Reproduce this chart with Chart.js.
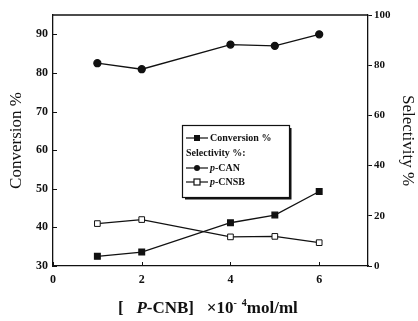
<!DOCTYPE html>
<html>
<head>
    <title>Conversion and Selectivity vs p-CNB</title>
    <script src="https://cdn.jsdelivr.net/npm/chart.js"></script>
    <style>
        html, body { margin: 0; padding: 0; background: #fff; }
        #wrap { position: relative; width: 418px; height: 321px; }
        #xTitle {
            position: absolute; left: 118px; top: 297px; white-space: nowrap;
            font-family: "Liberation Serif", serif;
            font-weight: bold; font-size: 17px; color: #111;
        }
        #xTitle sup { font-size: 10px; }
    </style>
</head>
<body>
    <div id="wrap">
        <canvas id="convChart" width="418" height="321"></canvas>
        <div id="xTitle">[&nbsp;&nbsp;&nbsp;<i>P</i>-CNB]&nbsp;&nbsp;&nbsp;×10<sup>-&nbsp;&nbsp;4</sup>mol/ml</div>
    </div>

    <script>
        // concentration of p-CNB (x 10^-4 mol/ml)
        const concentration = [1, 2, 4, 5, 6];
        const conversion = [32.5, 33.6, 41.2, 43.2, 49.3];
        const selectivityCAN = [80.8, 78.4, 88.2, 87.7, 92.3];
        const selectivityCNSB = [16.9, 18.5, 11.6, 11.8, 9.3];

        const leftTicks = [30, 40, 50, 60, 70, 80, 90];
        const rightTicks = [0, 20, 40, 60, 80, 100];
        const xTicks = [0, 2, 4, 6];

        const serif = '"Liberation Serif", "Times New Roman", serif';
        const toPoints = vals => vals.map((v, i) => ({ x: concentration[i], y: v }));

        // top frame line plus inward tick marks on the left and bottom axes
        const frameTicks = {
            id: 'frameTicks',
            afterDraw(chart) {
                const { ctx, chartArea, scales } = chart;
                ctx.save();
                ctx.strokeStyle = '#111';
                ctx.lineWidth = 1.3;
                ctx.beginPath();
                ctx.moveTo(chartArea.left, chartArea.top);
                ctx.lineTo(chartArea.right, chartArea.top);
                ctx.stroke();
                ctx.lineWidth = 1;
                leftTicks.forEach(v => {
                    const y = Math.round(scales.y.getPixelForValue(v)) + 0.5;
                    ctx.beginPath();
                    ctx.moveTo(chartArea.left, y);
                    ctx.lineTo(chartArea.left + 4, y);
                    ctx.stroke();
                });
                xTicks.forEach(v => {
                    const x = Math.round(scales.x.getPixelForValue(v)) + 0.5;
                    ctx.beginPath();
                    ctx.moveTo(x, chartArea.bottom);
                    ctx.lineTo(x, chartArea.bottom - 4);
                    ctx.stroke();
                });
                ctx.restore();
            }
        };

        // boxed legend in the middle of the plot
        const boxLegend = {
            id: 'boxLegend',
            afterDraw(chart) {
                const { ctx } = chart;
                const bx = 182, by = 125, bw = 107, bh = 72;
                ctx.save();
                ctx.fillStyle = '#fff';
                ctx.fillRect(bx, by, bw, bh);
                ctx.strokeStyle = '#111';
                ctx.lineWidth = 1.2;
                ctx.strokeRect(bx + 0.5, by + 0.5, bw, bh);
                ctx.lineWidth = 2;
                ctx.beginPath();
                ctx.moveTo(bx + 3, by + bh + 1.5);
                ctx.lineTo(bx + bw + 1.5, by + bh + 1.5);
                ctx.lineTo(bx + bw + 1.5, by + 3);
                ctx.stroke();

                ctx.font = 'bold 10px ' + serif;
                ctx.textBaseline = 'middle';
                ctx.fillStyle = '#111';

                const rows = [
                    { y: by + 13, label: 'Conversion %', marker: 'filledSquare' },
                    { y: by + 28, label: 'Selectivity %:', marker: null },
                    { y: by + 43, label: 'p-CAN', marker: 'circle' },
                    { y: by + 57, label: 'p-CNSB', marker: 'openSquare' }
                ];
                rows.forEach(r => {
                    if (!r.marker) {
                        ctx.fillText(r.label, bx + 4, r.y);
                        return;
                    }
                    ctx.lineWidth = 1.2;
                    ctx.beginPath();
                    ctx.moveTo(bx + 4, r.y);
                    ctx.lineTo(bx + 26, r.y);
                    ctx.stroke();
                    const mx = bx + 15;
                    if (r.marker === 'filledSquare') {
                        ctx.fillRect(mx - 3, r.y - 3, 6, 6);
                    } else if (r.marker === 'circle') {
                        ctx.beginPath();
                        ctx.arc(mx, r.y, 3, 0, Math.PI * 2);
                        ctx.fill();
                    } else {
                        ctx.fillStyle = '#fff';
                        ctx.fillRect(mx - 3, r.y - 3, 6, 6);
                        ctx.strokeRect(mx - 3, r.y - 3, 6, 6);
                        ctx.fillStyle = '#111';
                    }
                    const tx = bx + 28;
                    if (r.label.startsWith('p-')) {
                        ctx.font = 'italic bold 10px ' + serif;
                        ctx.fillText('p', tx, r.y);
                        const w = ctx.measureText('p').width;
                        ctx.font = 'bold 10px ' + serif;
                        ctx.fillText(r.label.slice(1), tx + w, r.y);
                    } else {
                        ctx.fillText(r.label, tx, r.y);
                    }
                });
                ctx.restore();
            }
        };

        const tickFont = { family: serif, size: 12, weight: 'bold' };

        new Chart(document.getElementById('convChart'), {
            type: 'line',
            data: {
                datasets: [
                    {
                        label: 'Conversion %',
                        data: toPoints(conversion),
                        yAxisID: 'y',
                        borderColor: '#111',
                        backgroundColor: '#111',
                        borderWidth: 1.3,
                        pointStyle: 'rect',
                        pointRadius: 4,
                        tension: 0
                    },
                    {
                        label: 'p-CAN',
                        data: toPoints(selectivityCAN),
                        yAxisID: 'y1',
                        borderColor: '#111',
                        backgroundColor: '#111',
                        borderWidth: 1.3,
                        pointStyle: 'circle',
                        pointRadius: 3.5,
                        tension: 0
                    },
                    {
                        label: 'p-CNSB',
                        data: toPoints(selectivityCNSB),
                        yAxisID: 'y1',
                        borderColor: '#111',
                        backgroundColor: '#fff',
                        borderWidth: 1.3,
                        pointStyle: 'rect',
                        pointRadius: 4,
                        pointBorderWidth: 1,
                        tension: 0
                    }
                ]
            },
            options: {
                responsive: false,
                animation: false,
                layout: { padding: { top: 15, bottom: 0 } },
                plugins: {
                    legend: { display: false },
                    tooltip: { enabled: false }
                },
                scales: {
                    x: {
                        type: 'linear',
                        min: 0,
                        max: 7.1,
                        afterBuildTicks: s => { s.ticks = xTicks.map(v => ({ value: v })); },
                        afterFit: s => { s.height = 55; },
                        border: { color: '#111', width: 1.3 },
                        grid: { drawOnChartArea: false, drawTicks: false },
                        ticks: { color: '#111', font: tickFont, padding: 7 }
                    },
                    y: {
                        position: 'left',
                        min: 30,
                        max: 95,
                        afterBuildTicks: s => { s.ticks = leftTicks.map(v => ({ value: v })); },
                        afterFit: s => { s.width = 53; },
                        border: { color: '#111', width: 1.3 },
                        grid: { drawOnChartArea: false, drawTicks: false },
                        ticks: { color: '#111', font: tickFont, padding: 5 },
                        title: {
                            display: true,
                            text: 'Conversion %',
                            color: '#111',
                            font: { family: serif, size: 17 },
                            padding: { top: 6, bottom: 0 }
                        }
                    },
                    y1: {
                        position: 'right',
                        min: 0,
                        max: 100,
                        afterBuildTicks: s => { s.ticks = rightTicks.map(v => ({ value: v })); },
                        afterFit: s => { s.width = 50; },
                        border: { color: '#111', width: 1.3 },
                        grid: { drawOnChartArea: false, tickLength: 4, color: '#111' },
                        ticks: { color: '#111', font: { family: serif, size: 11, weight: 'bold' }, padding: 2 },
                        title: {
                            display: true,
                            text: 'Selectivity %',
                            color: '#111',
                            font: { family: serif, size: 17 },
                            padding: { top: 0, bottom: 0 }
                        }
                    }
                }
            },
            plugins: [frameTicks, boxLegend]
        });
    </script>
</body>
</html>
